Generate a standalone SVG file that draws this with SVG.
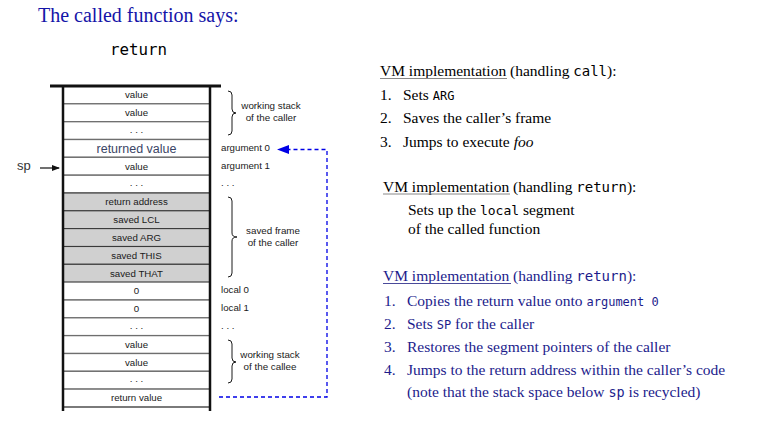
<svg xmlns="http://www.w3.org/2000/svg" width="766" height="427" viewBox="0 0 766 427">
<style>
.cell{fill:#ffffff;stroke:#6e6e6e;stroke-width:1.3}
.gray{fill:#d0d0d0;stroke:#3a3a3a;stroke-width:1.1}
.ct{font-family:"Liberation Sans",Arial,sans-serif;font-size:9.7px;fill:#1a1a1a;text-anchor:middle}
.lb{font-family:"Liberation Sans",Arial,sans-serif;font-size:9.7px;fill:#1a1a1a}
.bt{font-family:"Liberation Sans",Arial,sans-serif;font-size:9.8px;fill:#1a1a1a;text-anchor:middle}
.brace{fill:none;stroke:#1a1a1a;stroke-width:1}
.wall{stroke:#111;stroke-width:2.5;fill:none}
.ser{font-family:"Liberation Serif","Times New Roman",serif;font-size:15.5px}
.mono{font-family:"DejaVu Sans Mono","Liberation Mono",monospace}
.blk{fill:#000}
.nav{fill:#1c1c8c}
.dash{fill:none;stroke:#0000e6;stroke-width:1.3;stroke-dasharray:4 3}
</style>
<defs>
<marker id="ah" markerWidth="8" markerHeight="6" refX="7" refY="3" orient="auto" markerUnits="userSpaceOnUse">
<path d="M0,0 L8,3 L0,6 z" fill="#111"/>
</marker>
</defs>
<rect width="766" height="427" fill="#ffffff"/>

<text x="38" y="22" font-family="'Liberation Serif','Times New Roman',serif" font-size="20px" fill="#1414a8">The called function says:</text>
<text x="110" y="55" class="mono" font-size="15.8px" fill="#000">return</text>

<g id="stack">
<g id="cell0"><rect class="cell" x="63" y="86" width="147" height="17.8"/><text class="ct" x="136.5" y="98.3">value</text></g>
<g id="cell1"><rect class="cell" x="63" y="103.8" width="147" height="17.9"/><text class="ct" x="136.5" y="116.1">value</text></g>
<g id="cell2"><rect class="cell" x="63" y="121.7" width="147" height="17.8"/><text class="ct" x="136.5" y="132.5">. . .</text></g>
<g id="cell3"><rect class="cell" x="63" y="139.5" width="147" height="17.8"/><text class="ct" x="136.5" y="153" style="font-size:12.5px;fill:#3a4566">returned value</text></g>
<g id="cell4"><rect class="cell" x="63" y="157.3" width="147" height="17.9"/><text class="ct" x="136.5" y="169.6">value</text></g>
<g id="cell5"><rect class="cell" x="63" y="175.2" width="147" height="17.8"/><text class="ct" x="136.5" y="186">. . .</text></g>
<g id="cell6"><rect class="gray" x="63" y="193" width="147" height="17.8"/><text class="ct" x="136.5" y="205.3">return address</text></g>
<g id="cell7"><rect class="gray" x="63" y="210.8" width="147" height="17.8"/><text class="ct" x="136.5" y="223.1">saved LCL</text></g>
<g id="cell8"><rect class="gray" x="63" y="228.6" width="147" height="17.9"/><text class="ct" x="136.5" y="240.9">saved ARG</text></g>
<g id="cell9"><rect class="gray" x="63" y="246.5" width="147" height="17.8"/><text class="ct" x="136.5" y="258.8">saved THIS</text></g>
<g id="cell10"><rect class="gray" x="63" y="264.3" width="147" height="17.8"/><text class="ct" x="136.5" y="276.6">saved THAT</text></g>
<g id="cell11"><rect class="cell" x="63" y="282.1" width="147" height="17.9"/><text class="ct" x="136.5" y="294.4">0</text></g>
<g id="cell12"><rect class="cell" x="63" y="300" width="147" height="17.8"/><text class="ct" x="136.5" y="312.3">0</text></g>
<g id="cell13"><rect class="cell" x="63" y="317.8" width="147" height="17.8"/><text class="ct" x="136.5" y="328.8">. . .</text></g>
<g id="cell14"><rect class="cell" x="63" y="335.6" width="147" height="17.9"/><text class="ct" x="136.5" y="347.9">value</text></g>
<g id="cell15"><rect class="cell" x="63" y="353.5" width="147" height="17.8"/><text class="ct" x="136.5" y="365.8">value</text></g>
<g id="cell16"><rect class="cell" x="63" y="371.3" width="147" height="17.8"/><text class="ct" x="136.5" y="382.3">. . .</text></g>
<g id="cell17"><rect class="cell" x="63" y="389.1" width="147" height="17.9"/><text class="ct" x="136.5" y="401.4">return value</text></g>
<line x1="63" y1="407" x2="210" y2="407" stroke="#6e6e6e" stroke-width="1.3"/>
<path class="wall" d="M63,86 V411 M210,86 V411"/>
<line x1="50" y1="86" x2="221" y2="86" stroke="#111" stroke-width="3"/>
</g>

<g id="braces">
<path class="brace" d="M228,91 Q232,91 232,95 V109 Q232,113 236,113 Q232,113 232,117 V131 Q232,135 228,135"/>
<path class="brace" d="M228,197 Q232,197 232,201 V233 Q232,237 237,237 Q232,237 232,241 V273 Q232,277 228,277"/>
<path class="brace" d="M228,340 Q232,340 232,344 V358 Q232,362 236,362 Q232,362 232,366 V379 Q232,383 228,383"/>
</g>

<g id="brace-labels">
<text class="bt" x="271" y="109">working stack</text>
<text class="bt" x="271" y="120.5">of the caller</text>
<text class="bt" x="273" y="233.5">saved frame</text>
<text class="bt" x="273" y="245.5">of the caller</text>
<text class="bt" x="270" y="357.5">working stack</text>
<text class="bt" x="270" y="369.5">of the callee</text>
</g>

<g id="pointer-labels">
<text class="lb" x="221" y="151">argument 0</text>
<text class="lb" x="221" y="168.5">argument 1</text>
<text class="lb" x="221" y="186">. . .</text>
<text class="lb" x="221" y="292.5">local 0</text>
<text class="lb" x="221" y="310.5">local 1</text>
<text class="lb" x="221" y="329">. . .</text>
</g>

<g id="sp">
<text x="17" y="170" font-family="'Liberation Sans',Arial,sans-serif" font-size="13px" fill="#333">sp</text>
</g>

<g id="connectors">
<line x1="40" y1="168" x2="59" y2="168" stroke="#111" stroke-width="1.2" marker-end="url(#ah)"/>
<path class="dash" d="M219,397 H327 V149.5 H288"/>
<path d="M277,149.5 L289,145 L289,154 z" fill="#0000e6"/>
</g>

<g id="call-text" class="ser blk">
<text x="380" y="76">VM implementation (handling <tspan class="mono" font-size="14px">call</tspan>):</text>
<line x1="380" y1="78.5" x2="507" y2="78.5" stroke="#888" stroke-width="1"/>
<text x="380" y="100">1.</text><text x="403" y="100">Sets <tspan class="mono" font-size="12px">ARG</tspan></text>
<text x="380" y="123">2.</text><text x="403" y="123">Saves the caller’s frame</text>
<text x="380" y="147">3.</text><text x="403" y="147">Jumps to execute <tspan font-style="italic">foo</tspan></text>
</g>

<g id="local-text" class="ser blk">
<text x="383" y="191.5">VM implementation (handling <tspan class="mono" font-size="14px">return</tspan>):</text>
<line x1="383" y1="194" x2="510" y2="194" stroke="#888" stroke-width="1"/>
<text x="408" y="215">Sets up the <tspan class="mono" font-size="13px">local</tspan> segment</text>
<text x="408" y="234">of the called function</text>
</g>

<g id="return-text" class="ser nav">
<text x="383" y="281">VM implementation (handling <tspan class="mono" font-size="14px">return</tspan>):</text>
<line x1="383" y1="283.5" x2="511" y2="283.5" stroke="#4a4a9a" stroke-width="1"/>
<text x="384" y="305.5">1.</text><text x="407" y="305.5">Copies the return value onto <tspan class="mono" font-size="12px">argument 0</tspan></text>
<text x="384" y="328.5">2.</text><text x="407" y="328.5">Sets <tspan class="mono" font-size="12px">SP</tspan> for the caller</text>
<text x="384" y="351.5">3.</text><text x="407" y="351.5">Restores the segment pointers of the caller</text>
<text x="384" y="374.5">4.</text><text x="407" y="374.5">Jumps to the return address within the caller’s code</text>
<text x="407" y="397">(note that the stack space below <tspan class="mono" font-size="13.5px">sp</tspan> is recycled)</text>
</g>
</svg>
